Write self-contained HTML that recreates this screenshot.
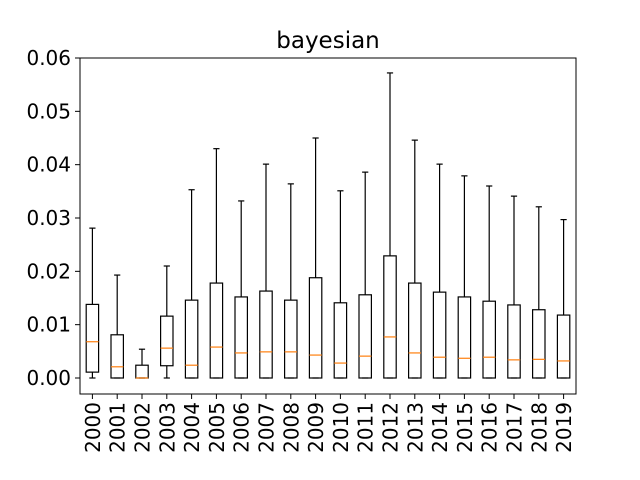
<!DOCTYPE html>
<html><head><meta charset="utf-8"><style>
body{margin:0;background:#fff;}
svg{display:block;font-family:"DejaVu Sans","Liberation Sans",sans-serif;}
</style></head><body>
<svg id="c" width="640" height="480"></svg>
<script>
const years=["2000","2001","2002","2003","2004","2005","2006","2007","2008","2009","2010","2011","2012","2013","2014","2015","2016","2017","2018","2019"];
const whiskerLow=[0,0,0,0,0,0,0,0,0,0,0,0,0,0,0,0,0,0,0,0];
const q1=[0.0011,0,0,0.0023,0,0,0,0,0,0,0,0,0,0,0,0,0,0,0,0];
const medians=[0.0068,0.0021,0,0.0056,0.0024,0.0058,0.0047,0.0049,0.0049,0.0043,0.0028,0.0041,0.0077,0.0047,0.0039,0.0037,0.0039,0.0034,0.0035,0.0032];
const q3=[0.0138,0.0081,0.0024,0.0116,0.0146,0.0178,0.0152,0.0163,0.0146,0.0188,0.0141,0.0156,0.0229,0.0178,0.0161,0.0152,0.0144,0.0137,0.0128,0.0118];
const whiskerHigh=[0.0281,0.0193,0.0054,0.021,0.0353,0.043,0.0332,0.0401,0.0364,0.045,0.0351,0.0386,0.0572,0.0446,0.0401,0.0379,0.036,0.0341,0.0321,0.0297];
const yTicks=[0,0.01,0.02,0.03,0.04,0.05,0.06];
const yTickLabels=["0.00","0.01","0.02","0.03","0.04","0.05","0.06"];

const svg=document.getElementById('c');
const NS='http://www.w3.org/2000/svg';
const L=80,R=576,T=58,B=394;
const yMin=-0.003,yMax=0.06;
const ys=v=>B-(v-yMin)/(yMax-yMin)*(B-T);
const xs=i=>L+(i+0.5)*(R-L)/years.length;
const unit=(R-L)/years.length;
function mk(tag,attrs,parent){const e=document.createElementNS(NS,tag);for(const k in attrs)e.setAttribute(k,attrs[k]);(parent||svg).appendChild(e);return e;}

const title=mk('text',{x:(L+R)/2,y:48,'text-anchor':'middle','font-size':'23'});
title.textContent='bayesian';



const plot=mk('g',{});



years.forEach((yr,i)=>{
  const g=mk('g',{},plot);
  
  
  const cx=xs(i),hw=unit*0.25,cw=unit*0.125;
  const st={stroke:'#000','stroke-width':1.2,fill:'none'};
  mk('line',Object.assign({x1:cx,x2:cx,y1:ys(q3[i]),y2:ys(whiskerHigh[i])},st),g);
  mk('line',Object.assign({x1:cx,x2:cx,y1:ys(q1[i]),y2:ys(whiskerLow[i])},st),g);
  mk('line',Object.assign({x1:cx-cw,x2:cx+cw,y1:ys(whiskerHigh[i]),y2:ys(whiskerHigh[i])},st),g);
  mk('line',Object.assign({x1:cx-cw,x2:cx+cw,y1:ys(whiskerLow[i]),y2:ys(whiskerLow[i])},st),g);
  mk('rect',Object.assign({x:cx-hw,y:ys(q3[i]),width:2*hw,height:ys(q1[i])-ys(q3[i])},st),g);
  mk('line',{x1:cx-hw,x2:cx+hw,y1:ys(medians[i]),y2:ys(medians[i]),stroke:'#ff7f0e','stroke-width':1.2},g);
  mk('line',{x1:cx,x2:cx,y1:B,y2:B+5,stroke:'#000','stroke-width':1});
  const t=mk('text',{x:0,y:0,'font-size':'20','text-anchor':'end',transform:`translate(${cx+7.5},${B+8}) rotate(-90)`});
  t.textContent=yr;
  
  
});

yTicks.forEach((v,i)=>{
  const y=ys(v);
  mk('line',{x1:L-5,x2:L,y1:y,y2:y,stroke:'#000','stroke-width':1});
  const t=mk('text',{x:L-9,y:y+7,'text-anchor':'end','font-size':'20'});
  t.textContent=yTickLabels[i];
  
  
});

const frame=mk('rect',{x:L,y:T,width:R-L,height:B-T,fill:'none',stroke:'#000','stroke-width':1});


</script>
</body></html>
